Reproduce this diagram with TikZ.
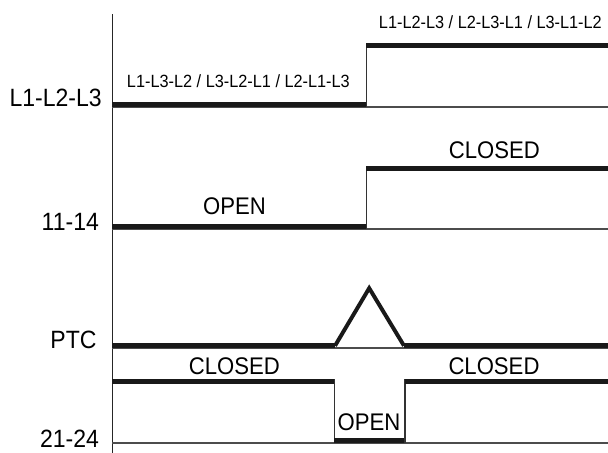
\documentclass[tikz,border=0pt]{standalone}
\usepackage{fontspec}
\setmainfont{Liberation Sans}[FakeStretch=0.92]
\usetikzlibrary{positioning}

\tikzset{
  axisline/.style={line width=0.9pt, black!85},
  baseline/.style={line width=0.8pt, black!70},
  level/.style={line width=3.5pt, black!90},
  edge/.style={line width=0.9pt, black!80},
  ramp/.style={line width=2.8pt, black!90, line join=miter},
  rowlabel/.style={font=\fontsize{17.8}{20}\selectfont, anchor=base east, inner sep=0pt},
  statelabel/.style={font=\fontsize{17.1}{20}\selectfont, anchor=base, inner sep=0pt},
  seqlabel/.style={font=\fontsize{12.6}{15}\selectfont, anchor=base, inner sep=0pt},
}

\begin{document}
\begin{tikzpicture}
        \useasboundingbox (0,0) rectangle (15.2,11.325);
        \draw[axisline] (2.81,0) -- (2.81,10.975);

        % phase sequence
        \draw[baseline] (2.81,8.65) -- (15.2,8.65);
        \draw[level] (2.81,8.72) -- (9.16,8.72);
        \draw[edge] (9.16,8.65) -- (9.16,10.24);
        \draw[level] (9.16,10.19) -- (15.2,10.19);
        \node[rowlabel] (phase) at (2.55,8.66) {L1-L2-L3};
        \node[seqlabel] (wrongseq) at (5.96,9.14) {L1-L3-L2 / L3-L2-L1 / L2-L1-L3};
        \node[seqlabel] (rightseq) at (12.26,10.62) {L1-L2-L3 / L2-L3-L1 / L3-L1-L2};

        % contact 11-14
        \draw[baseline] (2.81,5.6) -- (15.2,5.6);
        \draw[level] (2.81,5.66) -- (9.16,5.66);
        \draw[edge] (9.16,5.6) -- (9.16,7.17);
        \draw[level] (9.16,7.12) -- (15.2,7.12);
        \node[rowlabel] (nolabel) at (2.48,5.56) {11-14};
        \node[statelabel] (noopen) at (5.86,5.97) {OPEN};
        \node[statelabel] (noclosed) at (12.36,7.37) {CLOSED};

        % PTC
        \draw[baseline] (2.81,2.625) -- (15.2,2.625);
        \draw[level] (2.81,2.68) -- (8.375,2.68);
        \draw[ramp] (8.375,2.68) -- (9.23,4.12) -- (10.1,2.68);
        \draw[level] (10.1,2.68) -- (15.2,2.68);
        \node[rowlabel] (ptclabel) at (2.42,2.6) {PTC};

        % contact 21-24
        \draw[baseline] (2.81,0.25) -- (15.2,0.25);
        \draw[level] (2.81,1.79) -- (8.36,1.79);
        \draw[edge] (8.36,1.84) -- (8.36,0.25);
        \draw[level] (8.36,0.32) -- (10.125,0.32);
        \draw[edge] (10.125,0.25) -- (10.125,1.84);
        \draw[level] (10.125,1.79) -- (15.2,1.79);
        \node[rowlabel] (nclabel) at (2.48,0.13) {21-24};
        \node[statelabel] (ncclosed1) at (5.86,1.95) {CLOSED};
        \node[statelabel] (ncopen) at (9.225,0.55) {OPEN};
        \node[statelabel] (ncclosed2) at (12.35,1.95) {CLOSED};
\end{tikzpicture}
\end{document}
